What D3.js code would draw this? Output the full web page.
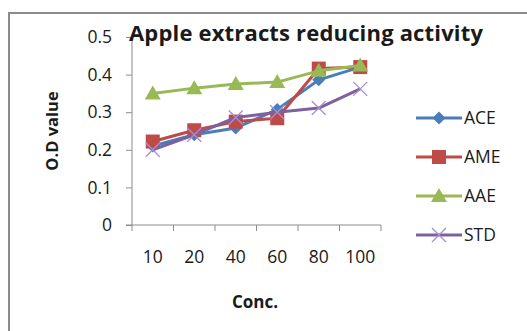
<!DOCTYPE html>
<html>
<head>
<meta charset="utf-8">
<script src="https://cdn.jsdelivr.net/npm/d3@7"></script>
<style>
  body { margin: 0; background: #fff; }
  text { font-family: "Open Sans", "Liberation Sans", sans-serif; fill: #1a1a1a; }
</style>
</head>
<body>
<div id="vis"></div>
<script>
const conc = ["10", "20", "40", "60", "80", "100"];
const seriesNames = ["ACE", "AME", "AAE", "STD"];
const ace = [0.21, 0.24, 0.258, 0.307, 0.386, 0.42];
const ame = [0.222, 0.252, 0.275, 0.284, 0.416, 0.42];
const aae = [0.35, 0.364, 0.375, 0.38, 0.41, 0.424];
const std = [0.2, 0.24, 0.286, 0.3, 0.311, 0.362];
const yTicks = [0, 0.1, 0.2, 0.3, 0.4, 0.5];

const WIDTH = 527, HEIGHT = 331;
const SVG = d3.select("#vis").append("svg").attr("width", WIDTH).attr("height", HEIGHT);

// marco exterior
SVG.append("rect")
    .attr("x", 9).attr("y", 13)
    .attr("width", 530).attr("height", 340)
    .attr("fill", "none")
    .attr("stroke", "#8c8c8c")
    .attr("stroke-width", 2);

const datos = [
    { nombre: seriesNames[0], valores: ace, color: "#4a7ebb", marca: "diamond" },
    { nombre: seriesNames[1], valores: ame, color: "#be4b48", marca: "square" },
    { nombre: seriesNames[2], valores: aae, color: "#98b954", marca: "triangle" },
    { nombre: seriesNames[3], valores: std, color: "#7d60a0", marca: "cross" }
];

const escalaX = d3.scaleBand().domain(conc).range([132, 381]);
const escalaY = d3.scaleLinear().domain([0, 0.5]).range([225, 37]);

// ejes
const ejeY = SVG.append("g").attr("transform", "translate(132,0)")
    .call(d3.axisLeft(escalaY).tickValues(yTicks).tickSize(6).tickPadding(14)
        .tickFormat(d => d === 0 ? "0" : d3.format(".1f")(d)));
ejeY.select(".domain").attr("stroke", "#8c8c8c").attr("d", "M0,37V225");
ejeY.selectAll(".tick line").attr("stroke", "#8c8c8c");
ejeY.selectAll("text").attr("font-size", "17.5px").attr("font-family", "Open Sans, sans-serif").attr("fill", "#1a1a1a");

const ejeX = SVG.append("g").attr("transform", "translate(0,225)")
    .call(d3.axisBottom(escalaX).tickSize(0).tickPadding(26));
ejeX.select(".domain").attr("stroke", "#8c8c8c").attr("d", "M126,0H381");
ejeX.selectAll("text").attr("font-size", "17.5px").attr("font-family", "Open Sans, sans-serif").attr("fill", "#1a1a1a");
ejeX.selectAll(".separador")
    .data(conc.concat(["fin"]))
    .enter()
    .append("line")
    .attr("x1", (d, i) => i < conc.length ? escalaX(d) : escalaX.range()[1])
    .attr("x2", (d, i) => i < conc.length ? escalaX(d) : escalaX.range()[1])
    .attr("y1", 0).attr("y2", 6)
    .attr("stroke", "#8c8c8c");

// titulos
SVG.append("text")
    .attr("x", 306).attr("y", 41)
    .attr("text-anchor", "middle")
    .attr("font-size", "22px").attr("font-weight", "bold")
    .attr("textLength", 354)
    .text("Apple extracts reducing activity");

SVG.append("text")
    .attr("x", 255).attr("y", 308)
    .attr("text-anchor", "middle")
    .attr("font-size", "17px").attr("font-weight", "bold")
    .text("Conc.");

SVG.append("text")
    .attr("transform", "translate(58,131) rotate(-90)")
    .attr("text-anchor", "middle")
    .attr("font-size", "16.5px").attr("font-weight", "bold")
    .text("O.D value");

const linea = d3.line()
    .x((d, i) => escalaX(conc[i]) + escalaX.bandwidth() / 2)
    .y(d => escalaY(d));

function marcador(g, tipo, color) {
    if (tipo === "diamond") {
        g.append("path").attr("d", "M0,-6.5L6.5,0L0,6.5L-6.5,0Z").attr("fill", color);
    } else if (tipo === "square") {
        g.append("rect").attr("x", -7).attr("y", -7).attr("width", 14).attr("height", 14).attr("fill", color);
    } else if (tipo === "triangle") {
        g.append("path").attr("d", "M0,-8L8,6L-8,6Z").attr("fill", color);
    } else {
        g.append("path").attr("d", "M-7,-7L7,7M-7,7L7,-7").attr("stroke", "#a58fd0").attr("stroke-width", 1.3);
    }
}

datos.forEach(s => {
    SVG.append("path")
        .datum(s.valores)
        .attr("d", linea)
        .attr("fill", "none")
        .attr("stroke", s.color)
        .attr("stroke-width", 3)
        .attr("stroke-linejoin", "round");
    s.valores.forEach((v, i) => {
        const g = SVG.append("g")
            .attr("transform", `translate(${escalaX(conc[i]) + escalaX.bandwidth() / 2},${escalaY(v)})`);
        marcador(g, s.marca, s.color);
    });
});

// leyenda
const leyenda = SVG.append("g");
datos.forEach((s, i) => {
    const y = 118 + 39 * i;
    leyenda.append("line")
        .attr("x1", 416).attr("x2", 462)
        .attr("y1", y).attr("y2", y)
        .attr("stroke", s.color).attr("stroke-width", 3);
    const g = leyenda.append("g").attr("transform", `translate(439,${y})`);
    marcador(g, s.marca, s.color);
    leyenda.append("text")
        .attr("x", 464).attr("y", y + 6)
        .attr("font-size", "17.5px")
        .text(s.nombre);
});
</script>
</body>
</html>
